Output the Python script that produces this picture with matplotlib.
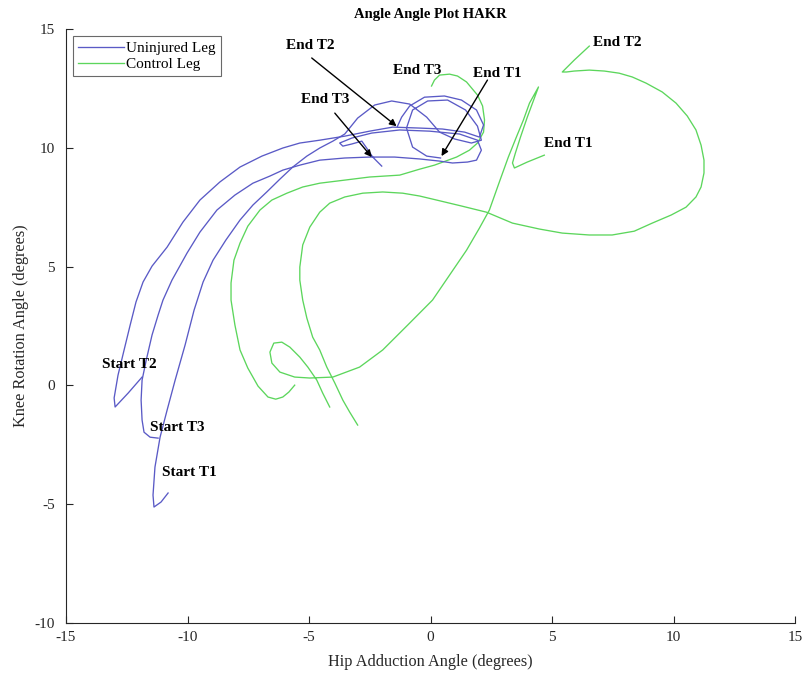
import matplotlib
matplotlib.use('Agg')
import matplotlib.pyplot as plt

plt.rcParams['font.family'] = ['Liberation Serif', 'DejaVu Serif']
plt.rcParams['axes.unicode_minus'] = False

# uninjured leg (hip adduction, knee rotation), three trials
blue_t1_x = [-10.80, -11.09, -11.38, -11.42, -11.34, -11.13, -10.84, -10.51, -10.10, -9.73,
             -9.36, -8.95, -8.42, -7.84, -7.31, -6.74, -6.20, -5.67, -5.09, -4.56,
             -4.02, -3.53, -3.00, -2.30, -1.60, -0.86, -0.16, 0.37, 0.99, 1.68,
             2.09, 1.93, 1.44, 0.70, -0.12, -0.74, -0.99, -0.74, -0.16, 0.41]
blue_t1_y = [-4.53, -4.91, -5.12, -4.62, -3.44, -2.18, -1.04, 0.22, 1.70, 3.17,
             4.35, 5.27, 6.12, 6.96, 7.59, 8.14, 8.68, 9.19, 9.65, 9.99,
             10.28, 10.58, 11.25, 11.80, 11.97, 11.84, 11.29, 10.66, 10.37, 10.20,
             10.32, 10.91, 11.59, 12.01, 11.97, 11.59, 10.83, 10.03, 9.65, 9.57]

blue_t2_x = [-11.87, -12.44, -12.98, -13.02, -12.86, -12.61, -12.36, -12.12, -11.83, -11.46,
             -10.84, -10.19, -9.49, -8.67, -7.84, -6.94, -6.08, -5.38, -4.56, -3.53,
             -2.51, -1.56, -0.45, 0.49, 1.40, 2.01, 2.18, 1.89, 1.27, 0.57,
             -0.25, -0.86, -1.19, -1.36]
blue_t2_y = [0.35, -0.32, -0.91, -0.53, 0.43, 1.49, 2.54, 3.51, 4.35, 5.02,
             5.82, 6.87, 7.80, 8.56, 9.19, 9.65, 9.99, 10.20, 10.32, 10.49,
             10.70, 10.87, 10.83, 10.79, 10.66, 10.45, 10.96, 11.59, 12.01, 12.18,
             12.13, 11.76, 11.29, 10.91]

blue_t3_x = [-11.21, -11.54, -11.79, -11.87, -11.91, -11.87, -11.70, -11.46, -11.21, -11.01,
             -10.64, -10.02, -9.49, -8.79, -8.05, -7.31, -6.61, -6.08, -5.38, -4.56,
             -3.53, -2.51, -1.48, -0.45, 0.37, 0.90, 1.52, 1.89, 2.09, 1.93,
             1.19, -0.04, -1.27, -2.42, -3.24, -3.74, -3.61, -3.24, -2.83, -2.63,
             -2.38, -2.01]
blue_t3_y = [-2.22, -2.18, -1.97, -1.46, -0.62, 0.22, 1.06, 2.12, 2.96, 3.59,
             4.43, 5.57, 6.45, 7.38, 8.01, 8.51, 8.81, 9.06, 9.27, 9.48,
             9.57, 9.61, 9.61, 9.53, 9.44, 9.36, 9.40, 9.48, 9.90, 10.32,
             10.58, 10.70, 10.75, 10.62, 10.41, 10.20, 10.07, 10.16, 10.28, 9.99,
             9.61, 9.23]

# control leg, three trials
green_t1_x = [-4.15, -4.44, -4.68, -5.05, -5.38, -5.79, -6.12, -6.45, -6.61, -6.53,
              -6.20, -5.59, -4.97, -4.02, -2.92, -1.97, -0.94, 0.08, 0.78, 1.48,
              2.01, 2.42, 2.83, 3.20, 3.53, 3.82, 4.07, 4.44, 4.27, 3.98,
              3.70, 3.49, 3.37, 3.45, 3.98, 4.68]
green_t1_y = [-0.91, -0.32, 0.22, 0.77, 1.19, 1.61, 1.82, 1.78, 1.40, 0.94,
              0.56, 0.35, 0.31, 0.35, 0.77, 1.49, 2.54, 3.59, 4.64, 5.69,
              6.62, 7.38, 8.56, 9.61, 10.45, 11.17, 11.88, 12.56, 12.09, 11.29,
              10.45, 9.78, 9.36, 9.15, 9.40, 9.69]

green_t2_x = [-3.00, -3.33, -3.61, -3.94, -4.27, -4.56, -4.85, -5.09, -5.26, -5.38,
              -5.38, -5.26, -4.97, -4.56, -4.15, -3.53, -2.79, -1.97, -1.15, -0.45,
              0.25, 1.27, 2.30, 3.37, 4.48, 5.42, 6.53, 7.47, 8.38, 9.12,
              9.90, 10.51, 10.92, 11.13, 11.25, 11.25, 11.13, 10.92, 10.56, 10.10,
              9.53, 8.87, 8.30, 7.76, 7.15, 6.53, 5.91, 5.59, 5.42, 5.91, 6.53]
green_t2_y = [-1.67, -1.12, -0.62, 0.10, 0.77, 1.49, 2.03, 2.83, 3.59, 4.43,
              4.98, 5.91, 6.66, 7.29, 7.67, 7.93, 8.09, 8.14, 8.09, 7.97,
              7.80, 7.55, 7.29, 6.83, 6.58, 6.41, 6.33, 6.33, 6.49, 6.83,
              7.17, 7.50, 7.93, 8.35, 8.94, 9.48, 10.11, 10.75, 11.34, 11.88,
              12.35, 12.72, 12.98, 13.14, 13.23, 13.27, 13.23, 13.19, 13.19, 13.69, 14.28]

green_t3_x = [-5.59, -5.83, -6.08, -6.37, -6.69, -7.10, -7.52, -7.84, -8.05, -8.21,
              -8.21, -8.09, -7.84, -7.52, -7.02, -6.53, -5.91, -5.26, -4.56, -3.53,
              -2.51, -1.27, -0.45, 0.16, 1.07, 1.60, 1.93, 2.18, 2.22, 2.14,
              1.93, 1.48, 1.11, 0.78, 0.37, 0.16, 0.04]
green_t3_y = [0.01, -0.28, -0.49, -0.58, -0.49, -0.03, 0.73, 1.49, 2.54, 3.59,
              4.31, 5.27, 5.99, 6.70, 7.38, 7.80, 8.09, 8.35, 8.51, 8.64,
              8.77, 8.85, 9.10, 9.27, 9.61, 9.90, 10.20, 10.66, 11.17, 11.76,
              12.22, 12.77, 13.02, 13.10, 13.06, 12.85, 12.60]

# (text, label x, label y, arrow start, arrow tip) -- None = no arrow
notes = [
    ('End T2', -4.97, 14.32, (-4.89, 13.78), (-1.40, 10.91)),
    ('End T3', -4.35, 12.05, (-3.94, 11.46), (-2.42, 9.61)),
    ('End T1', 2.75, 13.14, (2.34, 12.85), (0.45, 9.65)),
    ('End T3', -0.57, 13.27, None, None),
    ('End T2', 7.68, 14.45, None, None),
    ('End T1', 5.67, 10.16, None, None),
    ('Start T2', -12.40, 0.86, None, None),
    ('Start T3', -10.43, -1.76, None, None),
    ('Start T1', -9.94, -3.65, None, None),
]

blue = '#5a5ac6'
green = '#5cd65c'

fig = plt.figure(figsize=(8.03, 6.79), dpi=100)
ax = fig.add_axes([0.0822, 0.0825, 0.908, 0.8748])

ax.plot(green_t1_x, green_t1_y, color=green, lw=0.95)
ax.plot(green_t2_x, green_t2_y, color=green, lw=0.95)
ax.plot(green_t3_x, green_t3_y, color=green, lw=0.95)
ax.plot(blue_t1_x, blue_t1_y, color=blue, lw=0.95, label='Uninjured Leg')
ax.plot(blue_t2_x, blue_t2_y, color=blue, lw=0.95)
ax.plot(blue_t3_x, blue_t3_y, color=blue, lw=0.95)
# empty handle so the legend gets the green entry
ax.plot([], [], color=green, lw=0.95, label='Control Leg')

for txt, tx, ty, start, tip in notes:
    ax.text(tx, ty, txt, fontsize=11, fontweight='bold', ha='center', va='center')
    if start is not None:
        ax.annotate('', xy=tip, xytext=start,
                    arrowprops=dict(arrowstyle='-|>', color='k', lw=1.0,
                                    mutation_scale=10, shrinkA=0, shrinkB=0))

ax.set_xlim(-15, 15)
ax.set_ylim(-10, 15)
ax.set_xticks(range(-15, 16, 5))
ax.set_yticks(range(-10, 16, 5))
ax.tick_params(direction='in', length=5, labelsize=11, colors='#262626')
ax.tick_params(axis='x', pad=6)
ax.tick_params(axis='y', pad=8)
ax.spines['top'].set_visible(False)
ax.spines['right'].set_visible(False)
for s in ['left', 'bottom']:
    ax.spines[s].set_color('#262626')
    ax.spines[s].set_linewidth(0.8)

ax.set_title('Angle Angle Plot HAKR', fontsize=10.5, fontweight='bold', pad=8)
ax.set_xlabel('Hip Adduction Angle (degrees)', fontsize=11.7, color='#262626', labelpad=7)
ax.set_ylabel('Knee Rotation Angle (degrees)', fontsize=11.7, color='#262626', labelpad=4)

leg = ax.legend(loc='upper left', bbox_to_anchor=(0.009, 0.988), borderaxespad=0,
                fontsize=11, fancybox=False, edgecolor='#444444', handlelength=3.0,
                handletextpad=0.15, labelspacing=0.15, borderpad=0.35)
leg.get_frame().set_linewidth(0.8)

fig.savefig('out.png', dpi=100)
